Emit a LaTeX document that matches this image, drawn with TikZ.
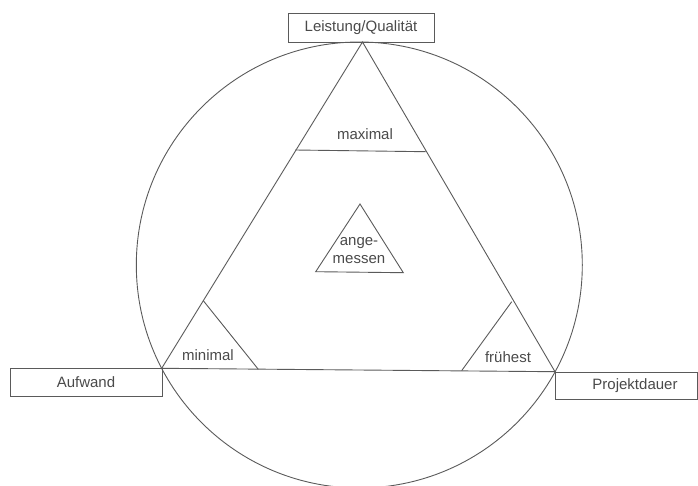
\documentclass[tikz,border=0pt]{standalone}
\usepackage{fontspec}
\setmainfont{Liberation Sans}
\usetikzlibrary{calc}
\definecolor{ink}{HTML}{5A5A5A}
\definecolor{txt}{HTML}{4A4A4A}
\tikzset{
  x=1pt, y=-1pt,
  ln/.style={draw=ink, line width=0.9pt},
  boxnode/.style={ln, rectangle, inner sep=0pt, font=\fontsize{15}{17}\selectfont, text=txt},
  lbl/.style={inner sep=0pt, font=\fontsize{15}{17}\selectfont, text=txt, align=center},
}
\begin{document}
\begin{tikzpicture}
\useasboundingbox (0,0) rectangle (698,486);
% triangle vertices
\coordinate (A) at (362.5,42);
\coordinate (B) at (161.7,368.3);
\coordinate (C) at (555,371.7);
\coordinate (O) at (359.3,265);
% circle
\draw[ln] (O) circle [radius=223];
% main triangle
\draw[ln] (A) -- (B) -- (C) -- cycle;
% maximal line
\coordinate (mxL) at (295,150);
\coordinate (mxR) at (425.5,151.7);
\draw[ln] (mxL) -- (mxR);
\node[lbl] (maximal) at (365,134) {maximal};
% minimal triangle
\coordinate (miT) at (203.3,300.7);
\coordinate (miB) at (258.3,369.3);
\draw[ln] (miT) -- (miB);
\node[lbl] (minimal) at (208,355) {minimal};
% fruehest triangle
\coordinate (frT) at (511.7,301.7);
\coordinate (frB) at (461.7,370.6);
\draw[ln] (frT) -- (frB);
\node[lbl] (fruehest) at (508,357) {frühest};
% angemessen triangle
\coordinate (anA) at (360,204);
\coordinate (anB) at (315.7,271.7);
\coordinate (anC) at (403.3,272.7);
\draw[ln] (anA) -- (anB) -- (anC) -- cycle;
\node[lbl, font=\fontsize{15}{17.5}\selectfont] (angemessen) at (359,250.5) {ange-\\messen};
% boxes
\node[boxnode, minimum width=146, minimum height=29] (leistung) at (361,27.5) {Leistung/Qualität};
\node[boxnode, minimum width=152, minimum height=28] (aufwand) at (86,382) {Aufwand};
\node[boxnode, text width=142, minimum height=27, align=center] (projekt) at (626,385.5) {\hspace*{18pt}Projektdauer};
\end{tikzpicture}
\end{document}
